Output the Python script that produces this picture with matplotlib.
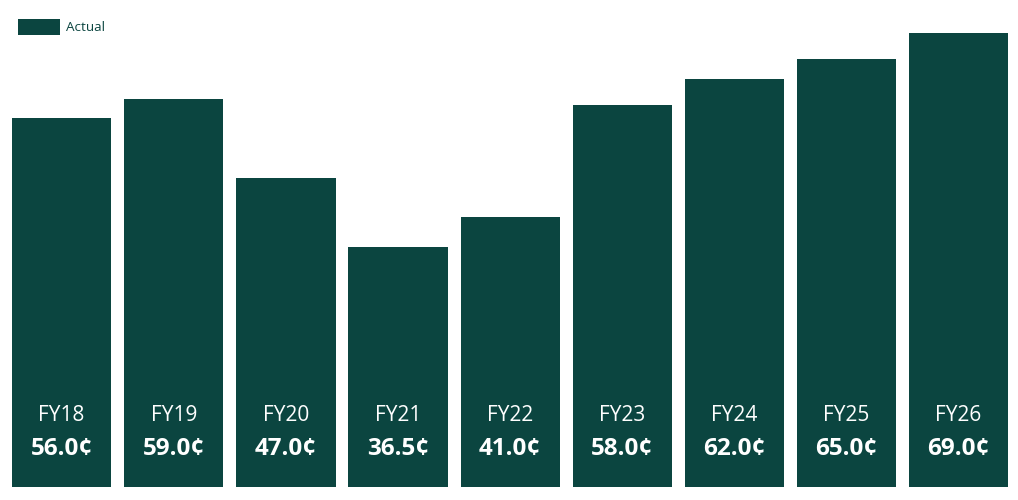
import numpy as np
import matplotlib
matplotlib.use('Agg')
import matplotlib.pyplot as plt

# data
years = ['FY18', 'FY19', 'FY20', 'FY21', 'FY22', 'FY23', 'FY24', 'FY25', 'FY26']
dividends = [56.0, 59.0, 47.0, 36.5, 41.0, 58.0, 62.0, 65.0, 69.0]

bar_colour = '#0b4540'

plt.rcParams['font.family'] = ['Open Sans', 'DejaVu Sans']

fig = plt.figure(figsize=(10.18, 5.0), dpi=100)
ax = fig.add_axes([0, 13 / 500, 1, 487 / 500])

x = np.arange(len(years))
ax.bar(x, dividends, width=0.885, color=bar_colour, label='Actual')

for xi, yr, val in zip(x, years, dividends):
    ax.text(xi, 10.0, yr, ha='center', va='baseline', color='white', fontsize=15)
    ax.text(xi, 4.85, '%.1f¢' % val, ha='center', va='baseline', color='white',
            fontsize=17.5, fontweight='bold')

ax.set_xlim(-0.55, 8.53)
ax.set_ylim(0, 74.0)
ax.axis('off')

leg = ax.legend(loc='upper left', bbox_to_anchor=(18 / 1018, 1 - 19 / 500),
                bbox_transform=fig.transFigure, frameon=False, fontsize=9.7,
                handlelength=3.15, handleheight=1.45, handletextpad=0.42,
                borderaxespad=0, borderpad=0)
for t in leg.get_texts():
    t.set_color(bar_colour)

fig.savefig('out.png', dpi=100)
